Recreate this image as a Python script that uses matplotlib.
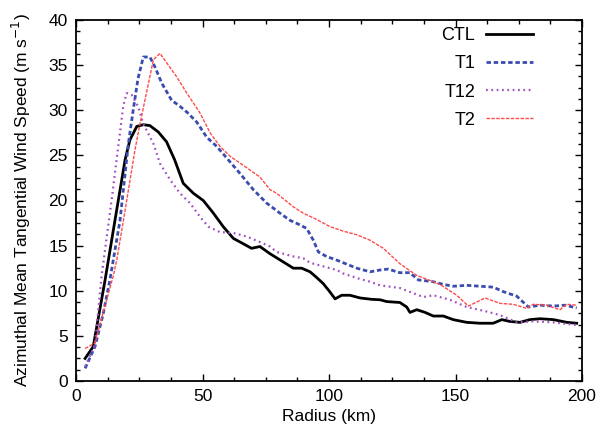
import matplotlib
matplotlib.use("Agg")
import matplotlib.pyplot as plt
from matplotlib.ticker import MultipleLocator

plt.rcParams['font.family'] = ['Liberation Sans', 'DejaVu Sans']

ctl_r = [3.6, 6.8, 11.5, 15.4, 19.4, 21.3, 24, 26.6, 29.2, 32.5, 35.8, 39, 42.4, 46.4, 50.3,
         54.3, 58.2, 62.2, 65.5, 69.4, 72.7, 76.7, 81.9, 85.9, 89.2, 92.5, 95, 97.7, 100,
         102.4, 105, 108.3, 112.3, 116.9, 120.2, 122.8, 128, 130.7, 132, 134.7, 138, 141.2,
         145.2, 149.1, 154.4, 159.7, 164.9, 168.3, 171.5, 175.5, 179.4, 183.4, 188.7, 194, 197.9]
ctl_v = [2.5, 3.8, 11.2, 17.8, 24.5, 26.7, 28.2, 28.4, 28.3, 27.6, 26.5, 24.5, 21.9, 20.8, 20.0,
         18.6, 17.1, 15.8, 15.3, 14.7, 14.9, 14.1, 13.2, 12.5, 12.5, 12.1, 11.5, 10.8, 10.0,
         9.1, 9.5, 9.5, 9.2, 9.05, 9.0, 8.8, 8.7, 8.2, 7.6, 7.9, 7.6, 7.2,
         7.2, 6.8, 6.5, 6.4, 6.4, 6.8, 6.6, 6.5, 6.8, 6.9, 6.8, 6.5, 6.4]

t1_r = [3.6, 7.5, 10.8, 13.4, 17.4, 20.7, 22.6, 24.5, 26.6, 29.2, 31.2, 33.9, 37.8, 40.8, 43.8,
        47.7, 51.7, 55.6, 59.6, 64.8, 70.1, 75.4, 80.6, 84.6, 88.5, 91.2, 93.8, 95.8, 99, 103,
        108.3, 111, 116.2, 120.2, 123.4, 128, 132, 135.3, 141.2, 145.2, 149.1, 154.4, 159.7,
        164.9, 168.9, 174.2, 178.8, 183.4, 188.7, 193.3, 197.9]
t1_v = [1.4, 3.8, 7.5, 11.2, 17.8, 26.3, 30.0, 33.5, 35.9, 35.9, 34.8, 33.0, 31.1, 30.5, 29.8,
        28.7, 27.0, 26.0, 24.7, 23.0, 21.2, 19.7, 18.6, 17.8, 17.3, 16.9, 15.6, 14.3, 13.8, 13.4,
        12.8, 12.5, 12.1, 12.3, 12.4, 12.0, 12.0, 11.2, 11.0, 10.7, 10.5, 10.6, 10.5,
        10.4, 9.9, 9.4, 8.2, 8.4, 8.3, 8.4, 8.1]

t12_r = [3.6, 7.5, 10.1, 14.1, 16.7, 18.7, 20, 22, 24.6, 26.6, 30.6, 33.2, 37.2, 41.1, 45.1,
         49, 52.3, 56.9, 62.2, 67.5, 72.7, 76.7, 79.3, 85.9, 89.8, 92.5, 99.1, 103, 105.7,
         112.3, 116.2, 120.2, 128, 137.3, 141.2, 147.8, 154.4, 162.3, 167.6, 174.2, 180.7,
         188.7, 197.9]
t12_v = [1.6, 4.0, 11.6, 20.1, 26.0, 30.5, 31.9, 31.7, 30.4, 28.5, 26.3, 24.1, 22.3, 20.8, 19.7,
         18.2, 17.1, 16.5, 16.4, 16.0, 15.4, 14.9, 14.3, 13.8, 13.6, 13.1, 12.6, 12.3, 11.9,
         11.3, 11.0, 10.6, 10.3, 9.3, 9.5, 9.0, 8.2, 7.7, 7.3, 6.5, 6.6,
         6.5, 6.2]

t2_r = [3.6, 7.5, 12.1, 14.7, 16.1, 19.4, 23.3, 25.3, 27.9, 30.6, 33.2, 36.5, 39.8, 43.8, 49,
        53, 56.9, 60.9, 66.1, 72.7, 76.7, 79.3, 85.9, 89.8, 95.1, 100.4, 105.7, 111, 116.2,
        121.5, 128, 134.7, 143.9, 150.5, 155.1, 161.7, 167.6, 172.8, 178.1, 180.7, 186,
        191.3, 194, 197.9]
t2_v = [3.6, 4.2, 9.0, 11.6, 13.4, 18.9, 25.6, 28.5, 32.0, 35.6, 36.3, 35.0, 33.7, 31.9, 29.7,
        27.5, 26.0, 24.9, 23.9, 22.6, 21.2, 20.8, 19.3, 18.6, 17.9, 17.1, 16.6, 16.2, 15.6,
        14.7, 13.0, 11.7, 10.7, 9.5, 8.3, 9.2, 8.6, 8.5, 8.05, 8.5, 8.4,
        7.9, 8.5, 8.4]

fig = plt.figure(figsize=(6.01, 4.34), dpi=100)
ax = fig.add_axes([76/601, 1-381/434, (582-76)/601, (381-20)/434])

ax.plot(ctl_r, ctl_v, color='black', lw=2.0, label='CTL')
ax.plot(t1_r, t1_v, color='#3a4cae', lw=2.0, dashes=(1.6, 1.0), label='T1')
ax.plot(t12_r, t12_v, color='#a050c0', lw=1.6, dashes=(0.8, 1.6), label='T12')
ax.plot(t2_r, t2_v, color='#ff4a4a', lw=1.0, dashes=(2.5, 1.0), label='T2')

ax.set_xlim(0, 200)
ax.set_ylim(0, 40)
ax.xaxis.set_major_locator(MultipleLocator(50))
ax.xaxis.set_minor_locator(MultipleLocator(12.5))
ax.yaxis.set_major_locator(MultipleLocator(5))
ax.yaxis.set_minor_locator(MultipleLocator(1.25))
ax.tick_params(which='both', direction='in', top=True, right=True, labelsize=12.5, width=1.0)
ax.tick_params(which='major', length=5, pad=6)
ax.tick_params(which='minor', length=3)
for s in ax.spines.values():
    s.set_linewidth(1.3)

ax.set_xlabel('Radius (km)', fontsize=12.5, labelpad=3)
ax.set_ylabel('Azimuthal Mean Tangential Wind Speed (m s$^{-1}$)', fontsize=12.5, labelpad=11)

ax.legend(loc='upper right', bbox_to_anchor=(0.935, 1.025), frameon=False, markerfirst=False,
          fontsize=13, handlelength=2.6, handletextpad=0.6, labelspacing=0.62)

fig.savefig('out.png', dpi=100)
